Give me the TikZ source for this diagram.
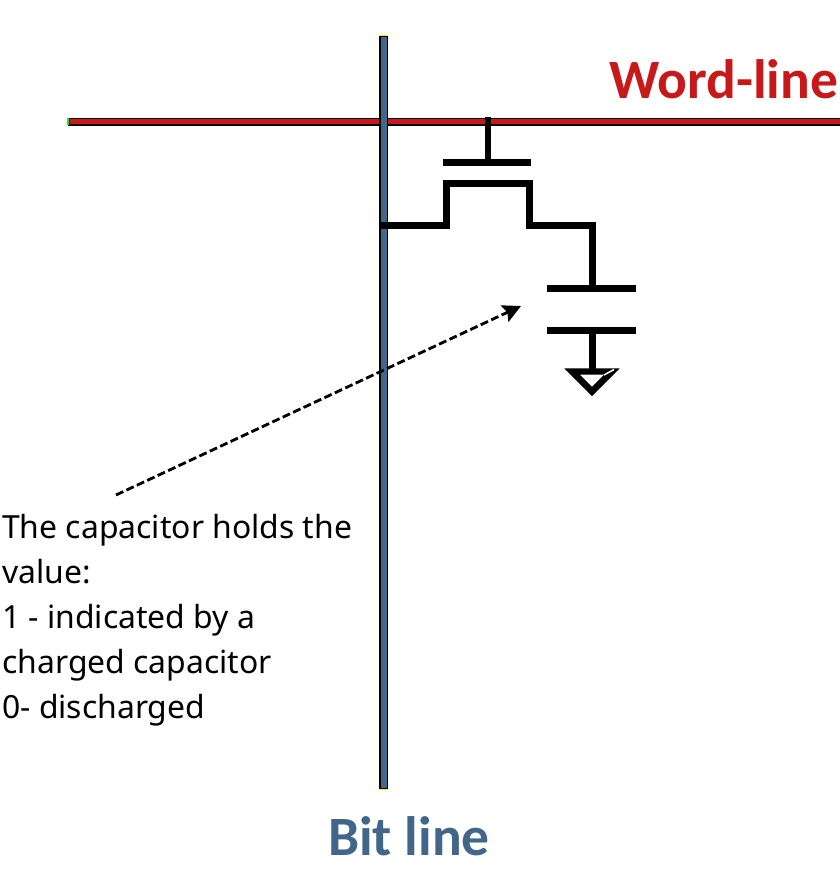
\documentclass[tikz,border=0pt]{standalone}
\usepackage{fontspec}
\setmainfont{Noto Sans}
\newfontfamily\labelfont{Carlito}
\usetikzlibrary{arrows.meta}
\definecolor{wordred}{HTML}{C8191A}
\definecolor{bitblue}{HTML}{41668A}
\tikzset{
  wire/.style = {line width=6.5pt, line join=miter},
  plate/.style = {line width=7pt},
  rail/.style = {draw=black, line width=1.6pt},
  pointer/.style = {dashed, line width=2.8pt, dash pattern=on 8pt off 3.5pt, -{Stealth[length=18pt,width=18pt,inset=3pt]}},
  title/.style = {font=\labelfont\bfseries\fontsize{55.5}{60}\selectfont, inner sep=0pt, anchor=base west}
}
\begin{document}
\begin{tikzpicture}[x=1pt, y=-1pt]
\useasboundingbox (0,0) rectangle (840,876);
\coordinate (wl1) at (69,118.3);
\coordinate (wl2) at (846,124.7);
\coordinate (bl1) at (380,36.5);
\coordinate (bl2) at (387.3,788.5);
\coordinate (gtop) at (488,117);
\coordinate (gbot) at (488,162.5);
\coordinate (gl) at (443,162.5);
\coordinate (gr) at (531,162.5);
\coordinate (d0) at (380.5,225.5);
\coordinate (d1) at (446.5,225.5);
\coordinate (d2) at (446.5,183.5);
\coordinate (d3) at (529.5,183.5);
\coordinate (d4) at (529.5,225.5);
\coordinate (d5) at (592.5,225.5);
\coordinate (c1) at (592.5,288.5);
\coordinate (c1l) at (547,288.5);
\coordinate (c1r) at (636,288.5);
\coordinate (c2) at (592.5,330.5);
\coordinate (c2l) at (547,330.5);
\coordinate (c2r) at (636,330.5);
\coordinate (g0) at (592.5,371.5);
\coordinate (g1) at (572,371.5);
\coordinate (g2) at (612,371.5);
\coordinate (g3) at (592,391.5);
\coordinate (p1) at (116,495);
\coordinate (p2) at (521,306);

% lines
\draw[rail, fill=wordred] (wl1) rectangle (wl2);
\draw[rail, fill=bitblue] (bl1) rectangle (bl2);
\draw[green, line width=1.5pt] (68,117.5) -- (68,125);
\draw[yellow, line width=1pt] (380,35.5) -- (387,35.5);
\draw[yellow, line width=1pt] (380,789.5) -- (387,789.5);

% transistor
\draw[line width=6pt] (gtop) -- (gbot);
\draw[plate] (gl) -- (gr);
\draw[wire] (d0) -- (d1) -- (d2) -- (d3) -- (d4) -- (d5) -- (c1);

% capacitor and ground
\draw[plate] (c1l) -- (c1r);
\draw[plate] (c2l) -- (c2r);
\draw[line width=6.5pt] (c2) -- (g0);
\draw[line width=6.4pt, miter limit=4] (g1) -- (g2) -- (g3) -- cycle;
\draw[white, line width=1.5pt] (604,375) -- (614,369.5);

\draw[pointer] (p1) -- (p2);

\node[title, text=wordred] (wordlabel) at (609,98) {Word-line};
\node[title, text=bitblue] (bitlabel) at (328,855) {Bit line};
\node[align=left, inner sep=0pt, anchor=base west,
      font=\fontsize{31.9}{45}\selectfont] (note) at (2,718.5)
  {The capacitor holds the\\value:\\1 - indicated by a\\charged capacitor\\0- discharged};
\end{tikzpicture}
\end{document}
